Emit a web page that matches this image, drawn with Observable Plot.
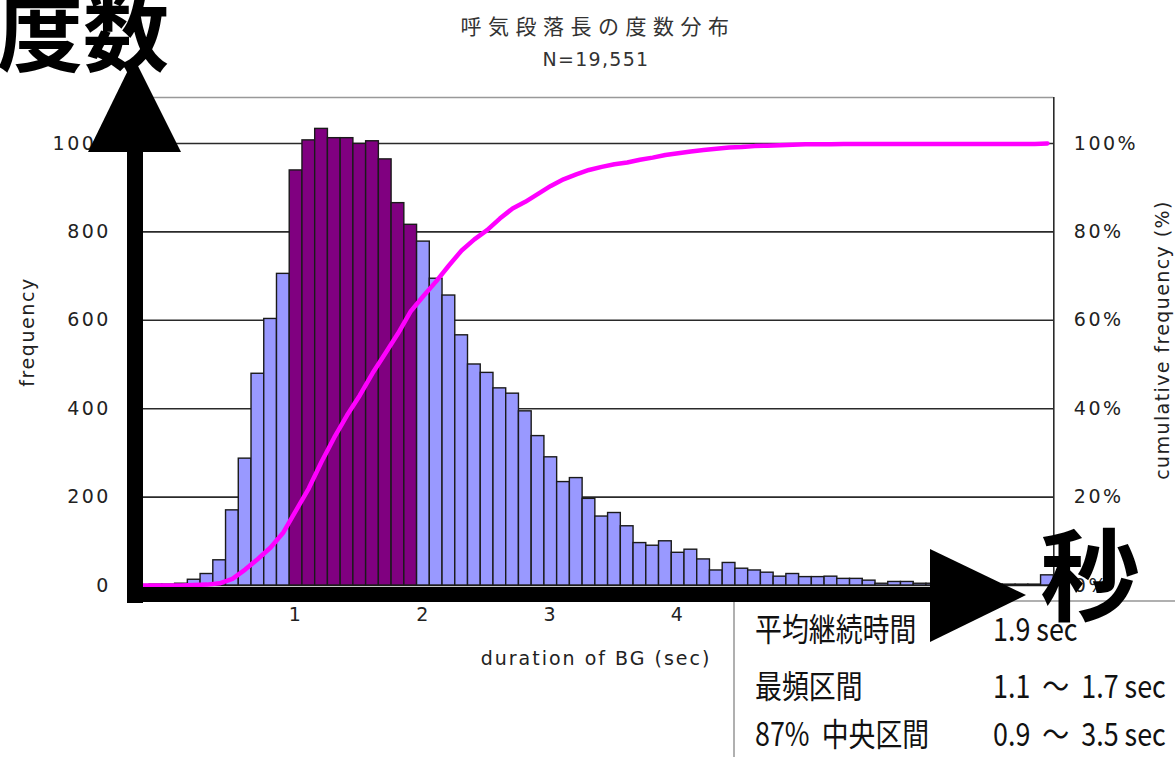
<!DOCTYPE html>
<html><head><meta charset="utf-8">
<script src="https://cdn.jsdelivr.net/npm/d3@7"></script>
<script src="https://cdn.jsdelivr.net/npm/@observablehq/plot@0.6"></script>
<style>
html,body{margin:0;padding:0;background:#fff}
body{width:1175px;height:757px;overflow:hidden;position:relative;font-family:"DejaVu Sans",sans-serif;color:#222}
#chart{position:absolute;left:0;top:0}
.abs{position:absolute;white-space:pre;line-height:1}
.jp{font-family:"Noto Sans CJK JP",sans-serif}
.lbl{font-family:"DejaVu Sans",sans-serif;font-size:19px;letter-spacing:1.3px;color:#222}
.row{font-family:"Noto Sans CJK JP",sans-serif;font-size:32px;color:#111;transform:scaleX(0.84);transform-origin:0 0}
</style></head><body>
<div id="chart"></div>
<script>
// ---- data ----
const titleText = "呼気段落長の度数分布";
const subtitleText = "N=19,551";
const xLabel = "duration of BG (sec)";
const yLabel = "frequency";
const y2Label = "cumulative frequency (%)";

// bin centres (sec), 0.1 s bins
const binCenters = [-0.2,-0.1,0.0,0.1,0.2,0.3,0.4,0.5,0.6,0.7,0.8,0.9,
  1.0,1.1,1.2,1.3,1.4,1.5,1.6,1.7,1.8,1.9,
  2.0,2.1,2.2,2.3,2.4,2.5,2.6,2.7,2.8,2.9,
  3.0,3.1,3.2,3.3,3.4,3.5,3.6,3.7,3.8,3.9,
  4.0,4.1,4.2,4.3,4.4,4.5,4.6,4.7,4.8,4.9,
  5.0,5.1,5.2,5.3,5.4,5.5,5.6,5.7,5.8,5.9,
  6.0,6.1,6.2,6.3,6.4,6.5,6.6,6.7,6.8,6.9];
const counts = [1,2,2,4,13,26,57,170,287,479,603,705,
  939,1007,1033,1012,1012,999,1005,964,865,816,
  778,694,656,566,500,481,446,434,394,338,
  290,234,243,196,156,164,134,96,90,100,
  74,81,59,34,51,38,34,29,20,26,
  19,19,20,15,15,11,4,8,8,4,
  4,3,3,2,2,2,2,2,2,23];
const cumulativePct = [0,0,0,0,0.1,0.2,0.5,1.5,3.6,6.0,8.6,12.0,
  17.0,22.0,28.0,33.5,38.5,43.0,48.0,52.5,57.0,62.0,
  65.5,68.8,72.4,75.8,78.3,80.4,83.0,85.3,86.8,88.6,
  90.4,91.9,93.0,94.0,94.7,95.3,95.7,96.3,96.8,97.4,
  97.8,98.2,98.5,98.8,99.1,99.2,99.4,99.5,99.6,99.7,
  99.8,99.8,99.8,99.9,99.9,99.9,99.9,99.9,99.9,99.9,
  99.9,99.9,99.9,99.9,99.9,99.9,99.9,99.9,99.9,100];
// highlighted (modal) bins
const modalBins = [1.0,1.1,1.2,1.3,1.4,1.5,1.6,1.7,1.8,1.9];
const yTicks = [0,200,400,600,800,1000];
const yTickLabels = ["0","200","400","600","800","1000"];
const y2TickLabels = ["0%","20%","40%","60%","80%","100%"];
const xTicks = [1,2,3,4,5,6];
const xTickLabels = ["1","2","3","4","5","6"];

const statLabels = ["平均継続時間","最頻区間","87%  中央区間"];
const statValues = ["1.9 sec","1.1  ～  1.7 sec","0.9  ～  3.5 sec"];

// ---- build ----
const binW = 0.1;
const bars = binCenters.map((c,i)=>({c, n:counts[i], modal: modalBins.some(m=>Math.abs(m-c)<1e-9)}));
const cum = binCenters.map((c,i)=>({c, p:cumulativePct[i]}));

const chart = Plot.plot({
  width:1175, height:757,
  marginLeft:136.4, marginRight:121.7, marginTop:97, marginBottom:172,
  x:{domain:[-0.25,6.95]},
  y:{domain:[0,1104]},
  style:{fontFamily:"DejaVu Sans, sans-serif", fontSize:"19px", color:"#222", background:"#fff", letterSpacing:"2.5px"},
  marks:[
    Plot.ruleY([200,400,600,800,1000],{stroke:"#2a2a2a", strokeWidth:1.6}),
    Plot.ruleY([1104],{stroke:"#999", strokeWidth:1.6}),
    Plot.ruleY([0],{stroke:"#222", strokeWidth:1.5}),
    Plot.rect(bars,{x1:d=>d.c-binW/2, x2:d=>d.c+binW/2, y1:0, y2:"n",
      fill:d=>d.modal?"#800080":"#9999ff", stroke:"#1a1a1a", strokeWidth:1.4}),
    Plot.ruleX([6.95],{stroke:"#2a2a2a", strokeWidth:1.6}),
    Plot.line(cum,{x:"c", y:d=>d.p*10, stroke:"#ff00ff", strokeWidth:4.5, curve:"linear"}),
    Plot.axisY(yTicks,{anchor:"left", tickSize:0, tickPadding:26, label:null,
      tickFormat:d=>yTickLabels[yTicks.indexOf(d)]}),
    Plot.axisY(yTicks,{anchor:"right", tickSize:0, tickPadding:20, label:null,
      tickFormat:d=>y2TickLabels[yTicks.indexOf(d)]}),
    Plot.axisX(xTicks,{anchor:"bottom", tickSize:0, tickPadding:22, label:null,
      tickFormat:d=>xTickLabels[xTicks.indexOf(d)]})
  ]
});
document.getElementById("chart").appendChild(chart);

function addDiv(cls, text, css){
  const d = document.createElement("div");
  d.className = "abs " + cls;
  d.textContent = text;
  Object.assign(d.style, css);
  document.body.appendChild(d);
  return d;
}
const ns = "http://www.w3.org/2000/svg";
function makeSvg(){
  const s = document.createElementNS(ns,"svg");
  s.setAttribute("width",1175); s.setAttribute("height",757);
  s.style.position="absolute"; s.style.left="0"; s.style.top="0";
  document.body.appendChild(s);
  return s;
}
function svgText(svg, text, attrs, css){
  const t = document.createElementNS(ns,"text");
  for(const k in attrs) t.setAttribute(k,attrs[k]);
  t.textContent = text;
  Object.assign(t.style, css||{});
  svg.appendChild(t);
  return t;
}
// titles
addDiv("jp", titleText, {left:"598px", top:"15px", fontSize:"21px", letterSpacing:"6.5px", transform:"translateX(-50%)", color:"#333"});
addDiv("lbl", subtitleText, {left:"596px", top:"50px", fontSize:"19px", transform:"translateX(-50%)", color:"#333"});
// axis titles (svg text, rotated ones as real text)
const lab = makeSvg();
const labCss = {fontFamily:"DejaVu Sans, sans-serif", fontSize:"19px", fill:"#222"};
svgText(lab, xLabel, {x:596, y:665, "text-anchor":"middle"}, Object.assign({letterSpacing:"2px"}, labCss));
svgText(lab, yLabel, {x:0, y:0, "text-anchor":"middle", transform:"translate(34,332) rotate(-90)"}, Object.assign({letterSpacing:"1.6px"}, labCss));
svgText(lab, y2Label, {x:0, y:0, "text-anchor":"middle", transform:"translate(1169,340) rotate(-90)"}, Object.assign({letterSpacing:"1.4px"}, labCss));

// stats box
addDiv("", "", {left:"733px", top:"600px", width:"460px", height:"170px", background:"#fff",
  borderLeft:"2px solid #b0b0b0", borderTop:"2px solid #b0b0b0"});
const rowTops = [611,668,716];
statLabels.forEach((t,i)=>addDiv("row", t, {left:"755px", top:rowTops[i]+"px"}));
statValues.forEach((t,i)=>addDiv("row", t, {left:"993px", top:rowTops[i]+"px"}));

// black annotation arrows
const ov = makeSvg();
const shapes = [
  ["rect",{x:127,y:148,width:16,height:455}],
  ["polygon",{points:"88,152 181,152 134,58"}],
  ["rect",{x:127,y:587,width:806,height:15}],
  ["polygon",{points:"930,549 1026,595 930,642"}]
];
shapes.forEach(([tag,attrs])=>{
  const e = document.createElementNS(ns,tag);
  for(const k in attrs) e.setAttribute(k,attrs[k]);
  e.setAttribute("fill","#000");
  ov.appendChild(e);
});

// big annotation words
addDiv("jp", "度数", {left:"-3px", top:"-15px", fontSize:"86px", fontWeight:"700", color:"#000"});
addDiv("jp", "秒", {left:"1040px", top:"520px", fontSize:"100px", fontWeight:"700", color:"#000"});
</script>
</body></html>
